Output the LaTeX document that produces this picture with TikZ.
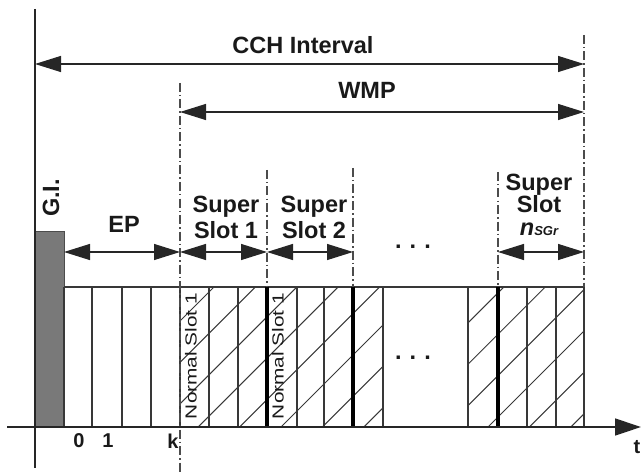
\documentclass[tikz,border=0pt]{standalone}
\usepackage{fontspec}
\setmainfont{Liberation Sans}
\usetikzlibrary{arrows.meta}
\begin{document}
\begin{tikzpicture}[x=1pt,y=-1pt,
  slotline/.style={line width=1.2pt, draw=black!78},
  thickline/.style={line width=3.8pt, draw=black},
  dashdotline/.style={line width=1.1pt, draw=black!70, dash pattern=on 9pt off 3pt on 1.5pt off 3pt},
  hatchline/.style={line width=1pt, draw=black!78},
  dimline/.style={line width=1.2pt, draw=black!85,
     {Triangle[length=26pt,width=16pt]}-{Triangle[length=26pt,width=16pt]}},
  lbl/.style={font=\bfseries\fontsize{23.5}{25}\selectfont, inner sep=0pt, text=black!90},
  num/.style={font=\bfseries\fontsize{20}{22}\selectfont, inner sep=0pt, text=black!90},
  normlbl/.style={font=\fontsize{16}{18}\selectfont, inner sep=0pt, rotate=90, text=black!90},
]
\useasboundingbox (0,0) rectangle (642,473);

% key coordinates
\coordinate (axL) at (7,427);
\coordinate (axR) at (641,427);
\coordinate (vTop) at (35,9);
\coordinate (vBot) at (35,468);
\coordinate (gi0) at (35,231);
\coordinate (gi1) at (64,427);
\coordinate (boxTL) at (64,287);
\coordinate (boxTR) at (584,287);

% hatching
\begin{scope}
  \clip (180,287) rectangle (383,427) (468,287) rectangle (584,427);
  \foreach \k in {-3,...,12} {
    \pgfmathsetmacro{\c}{915-41.4*\k}
    \draw[hatchline] (\c-440,440) -- (\c-274,274);
  }
\end{scope}

% gray guard interval bar
\fill[gray!95!black, draw=black!70, line width=0.8pt] (gi0) rectangle (gi1);

% box top line
\draw[slotline] (boxTL) -- (boxTR);

% thin slot lines
\foreach \x in {64,92,122,151,180,209,238,297,324,383,468,527,556,584} {
  \draw[slotline] (\x,287) -- (\x,427);
}
% thick super-slot separators
\foreach \x in {267,353,498} {
  \draw[thickline] (\x,287) -- (\x,427);
}

% dash-dot boundaries
\coordinate (d1a) at (180,83);  \coordinate (d1b) at (180,472);
\coordinate (d2a) at (267,170); \coordinate (d2b) at (267,287);
\coordinate (d3a) at (353,168); \coordinate (d3b) at (353,287);
\coordinate (d4a) at (498,172); \coordinate (d4b) at (498,287);
\coordinate (d5a) at (584,35);  \coordinate (d5b) at (584,287);
\draw[dashdotline] (d1a) -- (d1b);
\draw[dashdotline] (d2a) -- (d2b);
\draw[dashdotline] (d3a) -- (d3b);
\draw[dashdotline] (d4a) -- (d4b);
\draw[dashdotline] (d5a) -- (d5b);

% axes
\draw[line width=1.3pt, draw=black!85] (vTop) -- (vBot);
\draw[line width=1.3pt, draw=black!85, -{Triangle[length=26pt,width=17pt]}] (axL) -- (axR);

% dimension arrows
\coordinate (cchL) at (35,64);   \coordinate (cchR) at (584,64);
\coordinate (wmpL) at (180,112); \coordinate (wmpR) at (584,112);
\coordinate (epL) at (64,252);   \coordinate (epR) at (180,252);
\coordinate (s1R) at (267,252);  \coordinate (s2R) at (353,252);
\coordinate (snL) at (498,252);  \coordinate (snR) at (584,252);
\draw[dimline] (cchL) -- (cchR);
\draw[dimline] (wmpL) -- (wmpR);
\draw[dimline] (epL) -- (epR);
\draw[dimline] (epR) -- (s1R);
\draw[dimline] (s1R) -- (s2R);
\draw[dimline] (snL) -- (snR);

% labels
\node[lbl] (cch) at (303,45) {CCH Interval};
\node[lbl] (wmp) at (367,90) {WMP};
\node[lbl] (ep) at (124,224) {EP};
\node[lbl, rotate=90] (gi) at (51,198) {G.I.};

\node[lbl, anchor=base] (ss1a) at (226,212) {Super};
\node[lbl, anchor=base] (ss1b) at (226,238) {Slot 1};
\node[lbl, anchor=base] (ss2a) at (314,212) {Super};
\node[lbl, anchor=base] (ss2b) at (314,238) {Slot 2};
\node[lbl, anchor=base, text depth=0pt] (ssna) at (539,190) {Super};
\node[lbl, anchor=base, text depth=0pt, text height=16pt] (ssnb) at (539,212) {Slot};
\node[lbl, anchor=base, text height=10pt, text depth=0pt] (ssnc) at (539,235) {\itshape n{\fontsize{13}{14}\selectfont SGr}};

\node[lbl] (dotsA) at (413,247) {.\hspace{8pt}.\hspace{8pt}.};
\node[lbl] (dotsB) at (413,358) {.\hspace{8pt}.\hspace{8pt}.};

\node[normlbl] (ns1) at (191,356) {\scalebox{1.3}[1]{Normal Slot 1}};
\node[normlbl] (ns2) at (278,356) {\scalebox{1.3}[1]{Normal Slot 1}};

\node[num] (n0) at (79,441) {0};
\node[num] (n1) at (108,441) {1};
\node[num] (nk) at (173,441) {k};
\node[num] (tl) at (637,447) {t};
\end{tikzpicture}
\end{document}
